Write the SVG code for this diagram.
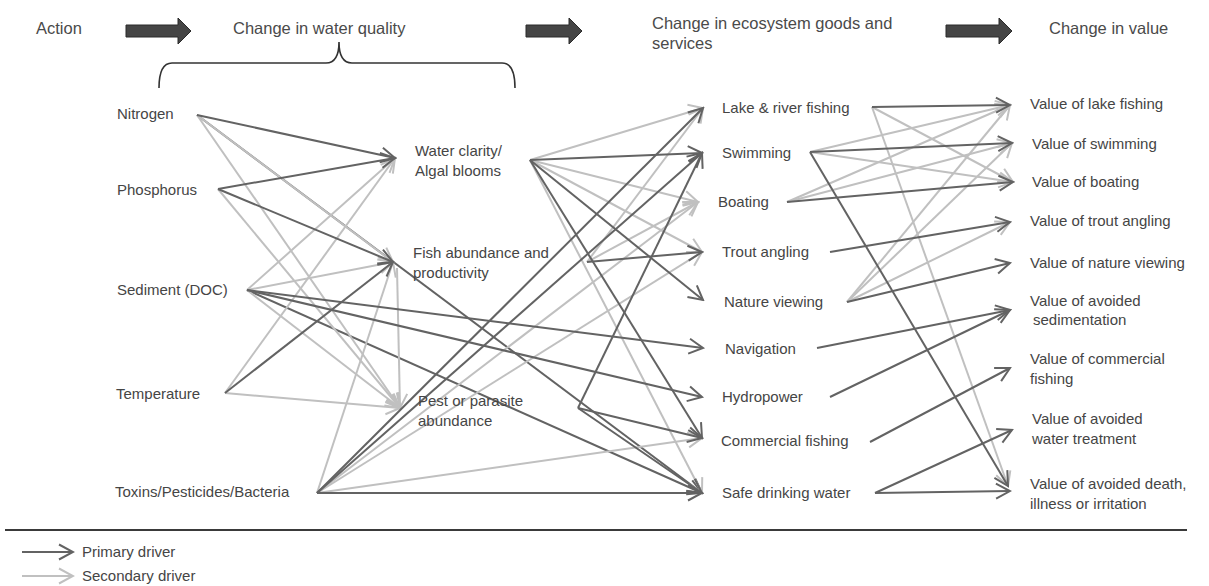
<svg xmlns="http://www.w3.org/2000/svg" width="1209" height="586" viewBox="0 0 1209 586">
<style>
.t{font-family:"Liberation Sans",Arial,sans-serif;font-size:15px;fill:#454545}
.h{font-family:"Liberation Sans",Arial,sans-serif;font-size:16.5px;fill:#4a4a4a}
.p{stroke:#636363;stroke-width:2;fill:none;marker-end:url(#ad)}
.s{stroke:#c0c0c0;stroke-width:2;fill:none;marker-end:url(#al)}
.blk{fill:#454545;stroke:#2a2a2a;stroke-width:1}
</style>
<defs>
<marker id="ad" viewBox="0 0 18 18" refX="16" refY="9" markerWidth="18" markerHeight="18" markerUnits="userSpaceOnUse" orient="auto"><path d="M2,1.5 L16,9 L2,16.5" fill="none" stroke="#636363" stroke-width="2"/></marker>
<marker id="al" viewBox="0 0 18 18" refX="16" refY="9" markerWidth="18" markerHeight="18" markerUnits="userSpaceOnUse" orient="auto"><path d="M2,1.5 L16,9 L2,16.5" fill="none" stroke="#c0c0c0" stroke-width="2"/></marker>
</defs>
<rect width="1209" height="586" fill="#fff"/>

<g id="header">
<text class="h" x="36" y="34">Action</text>
<polygon class="blk" points="126,25 178,25 178,18 191,31 178,44 178,37 126,37"/>
<text class="h" x="233" y="34">Change in water quality</text>
<path d="M159,88 Q159,63 172,63 L326,63 Q339,63 339,42 Q339,63 352,63 L502,63 Q515,63 515,88" fill="none" stroke="#333" stroke-width="1.6"/>
<polygon class="blk" points="526,25 569,25 569,18 582,31 569,44 569,37 526,37"/>
<text class="h" x="652" y="29">Change in ecosystem goods and</text>
<text class="h" x="652" y="49">services</text>
<polygon class="blk" points="946,25 999,25 999,18 1012,31 999,44 999,37 946,37"/>
<text class="h" x="1049" y="34">Change in value</text>
</g>

<g id="connectors">
<line class="p" x1="197" y1="115" x2="702" y2="493"/>
<line class="p" x1="247" y1="290" x2="702" y2="493"/>
<line class="s" x1="197" y1="115" x2="393" y2="262"/>
<line class="s" x1="197" y1="115" x2="400" y2="408"/>
<line class="s" x1="218" y1="189" x2="400" y2="408"/>
<line class="s" x1="247" y1="290" x2="395" y2="158"/>
<line class="s" x1="247" y1="290" x2="393" y2="262"/>
<line class="s" x1="247" y1="290" x2="400" y2="408"/>
<line class="s" x1="225" y1="393" x2="395" y2="158"/>
<line class="s" x1="225" y1="393" x2="400" y2="408"/>
<line class="s" x1="317" y1="493" x2="393" y2="262"/>
<line class="s" x1="397" y1="268" x2="400" y2="408"/>
<line class="s" x1="317" y1="493" x2="698" y2="202"/>
<line class="s" x1="317" y1="493" x2="702" y2="252"/>
<line class="s" x1="317" y1="493" x2="702" y2="438"/>
<line class="s" x1="530" y1="160" x2="703" y2="108"/>
<line class="s" x1="530" y1="160" x2="698" y2="202"/>
<line class="s" x1="530" y1="160" x2="702" y2="252"/>
<line class="s" x1="530" y1="160" x2="702" y2="493"/>
<line class="s" x1="587" y1="262" x2="698" y2="202"/>
<line class="s" x1="587" y1="262" x2="703" y2="108"/>
<line class="s" x1="872" y1="107" x2="1013" y2="182"/>
<line class="s" x1="872" y1="107" x2="1008" y2="486"/>
<line class="s" x1="810" y1="152" x2="1010" y2="105"/>
<line class="s" x1="810" y1="152" x2="1013" y2="182"/>
<line class="s" x1="787" y1="202" x2="1010" y2="105"/>
<line class="s" x1="787" y1="202" x2="1012" y2="143"/>
<line class="s" x1="847" y1="302" x2="1010" y2="105"/>
<line class="s" x1="847" y1="302" x2="1012" y2="143"/>
<line class="s" x1="847" y1="302" x2="1010" y2="222"/>
<line class="p" x1="197" y1="115" x2="395" y2="158"/>
<line class="p" x1="218" y1="189" x2="395" y2="158"/>
<line class="p" x1="218" y1="189" x2="393" y2="262"/>
<line class="p" x1="247" y1="290" x2="703" y2="348"/>
<line class="p" x1="247" y1="290" x2="702" y2="397"/>
<line class="p" x1="225" y1="393" x2="393" y2="262"/>
<line class="p" x1="317" y1="493" x2="703" y2="108"/>
<line class="p" x1="317" y1="493" x2="702" y2="153"/>
<line class="p" x1="317" y1="493" x2="702" y2="493"/>
<line class="p" x1="530" y1="160" x2="702" y2="153"/>
<line class="p" x1="530" y1="160" x2="703" y2="300"/>
<line class="p" x1="530" y1="160" x2="702" y2="438"/>
<line class="p" x1="587" y1="262" x2="702" y2="252"/>
<line class="p" x1="578" y1="408" x2="702" y2="153"/>
<line class="p" x1="578" y1="408" x2="702" y2="438"/>
<line class="p" x1="578" y1="408" x2="702" y2="493"/>
<line class="p" x1="872" y1="107" x2="1010" y2="105"/>
<line class="p" x1="810" y1="152" x2="1012" y2="143"/>
<line class="p" x1="810" y1="152" x2="1008" y2="486"/>
<line class="p" x1="787" y1="202" x2="1013" y2="182"/>
<line class="p" x1="830" y1="252" x2="1010" y2="222"/>
<line class="p" x1="847" y1="302" x2="1010" y2="263"/>
<line class="p" x1="817" y1="348" x2="1010" y2="310"/>
<line class="p" x1="830" y1="397" x2="1010" y2="310"/>
<line class="p" x1="870" y1="442" x2="1010" y2="368"/>
<line class="p" x1="875" y1="493" x2="1012" y2="430"/>
<line class="p" x1="875" y1="493" x2="1010" y2="491"/>
</g>

<g id="n-nitrogen"><text class="t" x="117" y="119">Nitrogen</text></g>
<g id="n-phosphorus"><text class="t" x="117" y="195">Phosphorus</text></g>
<g id="n-sediment"><text class="t" x="117" y="295">Sediment (DOC)</text></g>
<g id="n-temperature"><text class="t" x="116" y="399">Temperature</text></g>
<g id="n-toxins"><text class="t" x="115" y="497">Toxins/Pesticides/Bacteria</text></g>

<g id="n-water-clarity"><text class="t" x="415" y="156">Water clarity/</text><text class="t" x="415" y="176">Algal blooms</text></g>
<g id="n-fish-abundance"><text class="t" x="413" y="258">Fish abundance and</text><text class="t" x="413" y="278">productivity</text></g>
<g id="n-pest"><text class="t" x="418" y="406">Pest or parasite</text><text class="t" x="418" y="426">abundance</text></g>

<g id="n-lake-fishing"><text class="t" x="722" y="113">Lake &amp; river fishing</text></g>
<g id="n-swimming"><text class="t" x="722" y="158">Swimming</text></g>
<g id="n-boating"><text class="t" x="718" y="207">Boating</text></g>
<g id="n-trout"><text class="t" x="722" y="257">Trout angling</text></g>
<g id="n-nature"><text class="t" x="724" y="307">Nature viewing</text></g>
<g id="n-navigation"><text class="t" x="725" y="354">Navigation</text></g>
<g id="n-hydropower"><text class="t" x="722" y="402">Hydropower</text></g>
<g id="n-commercial"><text class="t" x="721" y="446">Commercial fishing</text></g>
<g id="n-drinking"><text class="t" x="722" y="498">Safe drinking water</text></g>

<g id="v-lake"><text class="t" x="1030" y="109">Value of lake fishing</text></g>
<g id="v-swimming"><text class="t" x="1032" y="149">Value of swimming</text></g>
<g id="v-boating"><text class="t" x="1032" y="187">Value of boating</text></g>
<g id="v-trout"><text class="t" x="1030" y="226">Value of trout angling</text></g>
<g id="v-nature"><text class="t" x="1030" y="268">Value of nature viewing</text></g>
<g id="v-sediment"><text class="t" x="1030" y="306">Value of avoided</text><text class="t" x="1033" y="325">sedimentation</text></g>
<g id="v-commercial"><text class="t" x="1030" y="364">Value of commercial</text><text class="t" x="1030" y="384">fishing</text></g>
<g id="v-treatment"><text class="t" x="1032" y="424">Value of avoided</text><text class="t" x="1032" y="444">water treatment</text></g>
<g id="v-death"><text class="t" x="1030" y="489">Value of avoided death,</text><text class="t" x="1030" y="509">illness or irritation</text></g>

<g id="legend">
<line x1="5" y1="530" x2="1187" y2="530" stroke="#3a3a3a" stroke-width="2"/>
<line class="p" x1="22" y1="552" x2="73" y2="552"/>
<text class="t" x="82" y="557">Primary driver</text>
<line class="s" x1="22" y1="576" x2="73" y2="576"/>
<text class="t" x="82" y="581">Secondary driver</text>
</g>
</svg>
